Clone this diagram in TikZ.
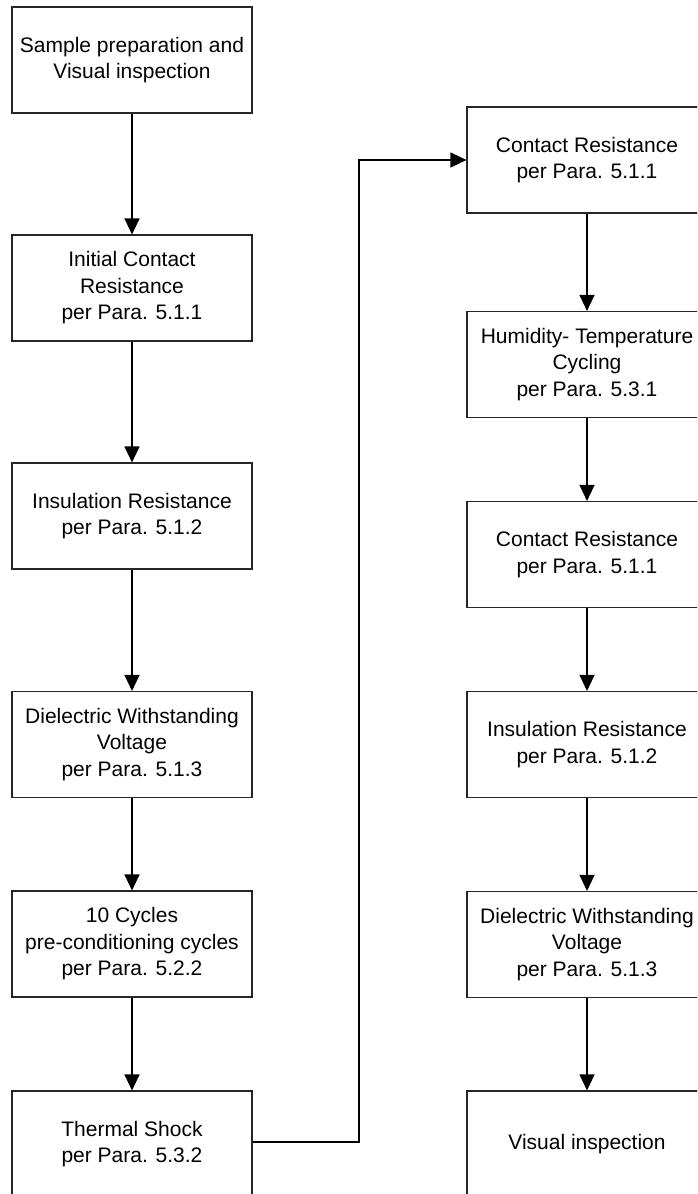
\documentclass[tikz,border=0pt]{standalone}
\usepackage{fontspec}
\setmainfont{Liberation Sans}
\usetikzlibrary{arrows.meta}
\begin{document}
\begin{tikzpicture}[x=1pt,y=-1pt,
  box/.style={draw=black!85, line width=1.1pt, minimum width=240pt, minimum height=106pt,
    inner sep=0pt, align=center, font=\fontsize{21}{26.5}\selectfont, fill=white},
  arr/.style={draw=black, line width=1.1pt, -{Triangle[length=16pt,width=15pt]}}]
\useasboundingbox (0,0) rectangle (697,1194);
\clip (0,0) rectangle (697,1194);
% left column
\node[box] (l1) at (132,60) {Sample preparation and\\Visual inspection};
\node[box] (l2) at (132,288) {Initial Contact\\Resistance\\per Para. 5.1.1};
\node[box] (l3) at (132,516) {Insulation Resistance\\per Para. 5.1.2};
\node[box] (l4) at (132,744.5) {Dielectric Withstanding\\Voltage\\per Para. 5.1.3};
\node[box] (l5) at (132,944) {10 Cycles\\pre-conditioning cycles\\per Para. 5.2.2};
\node[box] (l6) at (132,1144) {Thermal Shock\\per Para. 5.3.2};
% right column
\node[box] (r1) at (587,160) {Contact Resistance\\per Para. 5.1.1};
\node[box] (r2) at (587,364.5) {Humidity- Temperature\\Cycling\\per Para. 5.3.1};
\node[box] (r3) at (587,554.5) {Contact Resistance\\per Para. 5.1.1};
\node[box] (r4) at (587,744.5) {Insulation Resistance\\per Para. 5.1.2};
\node[box] (r5) at (587,944.5) {Dielectric Withstanding\\Voltage\\per Para. 5.1.3};
\node[box] (r6) at (587,1144) {Visual inspection};
% connectors
\draw[arr] (l1) -- (l2);
\draw[arr] (l2) -- (l3);
\draw[arr] (l3) -- (l4);
\draw[arr] (l4) -- (l5);
\draw[arr] (l5) -- (l6);
\coordinate (turn) at (359,1142);
\draw[arr] (l6.east |- turn) -- (turn) |- (r1.west);
\draw[arr] (r1) -- (r2);
\draw[arr] (r2) -- (r3);
\draw[arr] (r3) -- (r4);
\draw[arr] (r4) -- (r5);
\draw[arr] (r5) -- (r6);
\end{tikzpicture}
\end{document}
